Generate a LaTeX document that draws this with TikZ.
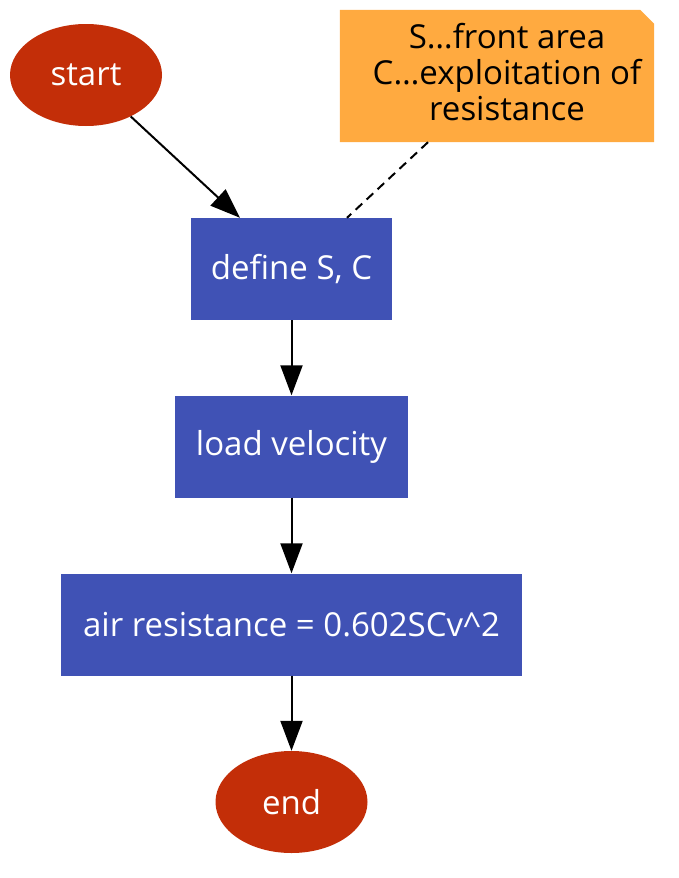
\documentclass[tikz,border=0pt]{standalone}
\usepackage{fontspec}
\setmainfont{Open Sans}
\usetikzlibrary{arrows.meta,shapes.geometric}
\definecolor{termred}{HTML}{C32E08}
\definecolor{stepblue}{HTML}{4052B5}
\definecolor{noteorange}{HTML}{FFAA40}
\begin{document}
\begin{tikzpicture}[x=1pt,y=-1pt,
  every node/.style={font=\fontsize{33}{36}\selectfont, inner sep=0pt},
  terminal/.style={ellipse, fill=termred, text=white, minimum width=152, minimum height=102},
  stepbox/.style={rectangle, fill=stepblue, text=white, minimum height=102},
  flow/.style={line width=2pt, -{Triangle[length=30pt,width=22pt]}},
  notelink/.style={line width=2pt, dash pattern=on 9pt off 6pt}]
 \useasboundingbox (0,0) rectangle (678,878);
 % nodes
 \node[terminal] (start) at (86,75) {start};
 \node[stepbox, minimum width=201] (define) at (291.5,269) {define S, C};
 \node[stepbox, minimum width=233] (load) at (291.5,446.5) {load velocity};
 \node[stepbox, minimum width=461] (air) at (291.5,624.5) {air resistance = 0.602SCv\^{}2};
 \node[terminal] (end) at (291.5,802) {end};
 \node[minimum width=314, minimum height=132] (note) at (497,76) {};
 \fill[noteorange] (note.north west) -- ([xshift=-14pt]note.north east) -- ([yshift=-14pt]note.north east)
   -- (note.south east) -- (note.south west) -- cycle;
 \node[align=center] (notetext) at ([xshift=10pt,yshift=4pt]note.center) {S…front area\\C…exploitation of\\resistance};
 % connectors
 \draw[flow] (start) -- (define.north -| 240,0);
 \draw[notelink] (note.south -| 428,0) -- (define.north -| 347,0);
 \draw[flow] (define) -- (load);
 \draw[flow] (load) -- (air);
 \draw[flow] (air) -- (end);
\end{tikzpicture}
\end{document}
